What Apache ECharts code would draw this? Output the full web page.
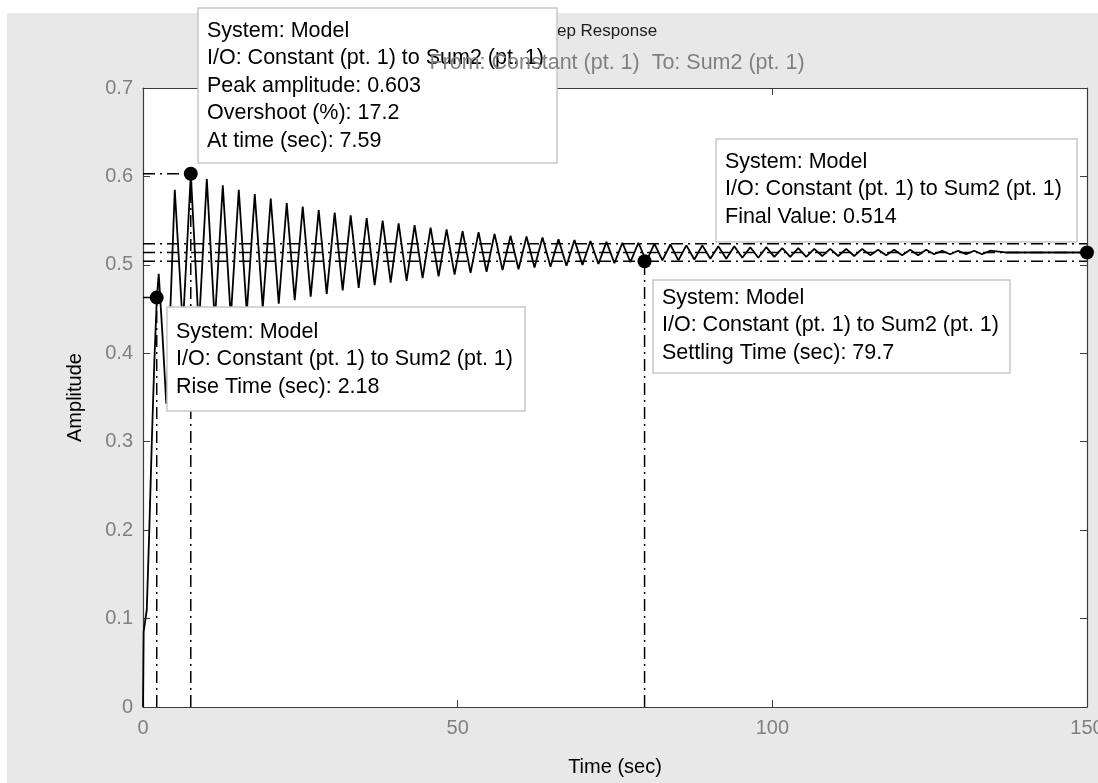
<!DOCTYPE html>
<html>
<head>
<meta charset="utf-8">
<title>Step Response</title>
<script src="https://cdn.jsdelivr.net/npm/echarts@6/dist/echarts.min.js"></script>
<style>
  html, body { margin: 0; padding: 0; background: #fff; }
  #chart { width: 1098px; height: 783px; }
</style>
</head>
<body>
<div id="chart"></div>
<script>
// step response (peaks / troughs of the ringing)
const respTime = [
  0, 0.1, 0.6, 1.0, 1.4, 1.8, 2.2, 2.5, 3.1, 3.7, 4.4, 5.05, 6.33,
  7.6, 8.87, 10.14, 11.41, 12.68, 13.95, 15.22, 16.49, 17.76, 19.03,
  20.3, 21.57, 22.84, 24.11, 25.38, 26.65, 27.92, 29.19, 30.46, 31.73,
  33, 34.27, 35.54, 36.81, 38.08, 39.35, 40.62, 41.89, 43.16, 44.43,
  45.7, 46.97, 48.24, 49.51, 50.78, 52.05, 53.32, 54.59, 55.86, 57.13,
  58.4, 59.67, 60.94, 62.21, 63.48, 64.75, 66.02, 67.29, 68.56, 69.83,
  71.1, 72.37, 73.64, 74.91, 76.18, 77.45, 78.72, 79.99, 81.26, 82.53,
  83.8, 85.07, 86.34, 87.61, 88.88, 90.15, 91.42, 92.69, 93.96, 95.23,
  96.5, 97.77, 99.04, 100.31, 101.58, 102.85, 104.12, 105.39, 106.66, 107.93,
  109.2, 110.47, 111.74, 113.01, 114.28, 115.55, 116.82, 118.09, 119.36, 120.63,
  121.9, 123.17, 124.44, 125.71, 126.98, 128.25, 129.52, 130.79, 132.06, 133.33,
  134.6, 137, 150
]
const respAmp = [
  0, 0.085, 0.11, 0.2, 0.3, 0.39, 0.463, 0.49, 0.42, 0.343, 0.46, 0.585, 0.43,
  0.603, 0.428, 0.597, 0.435, 0.590, 0.440, 0.585, 0.446, 0.580, 0.451,
  0.575, 0.456, 0.570, 0.460, 0.566, 0.464, 0.562, 0.467, 0.559, 0.471,
  0.556, 0.474, 0.553, 0.477, 0.550, 0.480, 0.547, 0.482, 0.545, 0.485,
  0.542, 0.487, 0.540, 0.489, 0.538, 0.491, 0.537, 0.492, 0.535, 0.494,
  0.533, 0.495, 0.532, 0.497, 0.531, 0.498, 0.529, 0.499, 0.528, 0.500,
  0.527, 0.501, 0.526, 0.502, 0.525, 0.503, 0.525, 0.504, 0.524, 0.505,
  0.523, 0.505, 0.522, 0.506, 0.522, 0.507, 0.521, 0.507, 0.521, 0.508,
  0.520, 0.508, 0.520, 0.509, 0.519, 0.509, 0.519, 0.509, 0.518, 0.510,
  0.518, 0.510, 0.518, 0.510, 0.518, 0.511, 0.517, 0.511, 0.517, 0.511,
  0.517, 0.511, 0.517, 0.512, 0.516, 0.512, 0.516, 0.512, 0.516, 0.512,
  0.516, 0.514, 0.514
]

// characteristics [time, amplitude]
const risePoint = [2.18, 0.463]
const peakPoint = [7.59, 0.603]
const settlePoint = [79.7, 0.504]
const finalPoint = [150, 0.514]
const settleBand = [0.504, 0.524]

const xTicks = [0, 50, 100, 150]
const yTicks = [0, 0.1, 0.2, 0.3, 0.4, 0.5, 0.6, 0.7]

const peakNote = ['System: Model', 'I/O: Constant (pt. 1) to Sum2 (pt. 1)', 'Peak amplitude: 0.603', 'Overshoot (%): 17.2', 'At time (sec): 7.59']
const riseNote = ['System: Model', 'I/O: Constant (pt. 1) to Sum2 (pt. 1)', 'Rise Time (sec): 2.18']
const finalNote = ['System: Model', 'I/O: Constant (pt. 1) to Sum2 (pt. 1)', 'Final Value: 0.514']
const settleNote = ['System: Model', 'I/O: Constant (pt. 1) to Sum2 (pt. 1)', 'Settling Time (sec): 79.7']

const FONT = 'Arial'
const AXIS_COLOR = '#3c3c3c'
const DASH_DOT = [12, 5, 2, 5]

const chart = echarts.init(document.getElementById('chart'))

function note(x, y, w, h, lines, top) {
  return {
    type: 'group',
    x: x,
    y: y,
    z: 100,
    children: [
      { type: 'rect', z: 100, shape: { x: 0, y: 0, width: w, height: h }, style: { fill: '#fff', stroke: '#c8c8c8', lineWidth: 1.5 } },
      { type: 'text', z: 101, x: 9, y: top, style: { text: lines.join('\n'), fontFamily: FONT, fontSize: 21.5, lineHeight: 27.5, fill: '#000' } }
    ]
  }
}

function refLine(a, b) {
  return {
    type: 'line',
    data: [a, b],
    symbol: 'none',
    silent: true,
    z: 2,
    lineStyle: { color: '#000', width: 1.5, type: DASH_DOT }
  }
}

const xMin = xTicks[0]
const xMax = xTicks[xTicks.length - 1]
const yMin = yTicks[0]
const yMax = yTicks[yTicks.length - 1]

function axisBase(min, max, interval) {
  return {
    type: 'value',
    min: min,
    max: max,
    interval: interval,
    axisLine: { show: true, onZero: false, lineStyle: { color: AXIS_COLOR, width: 1.2 } },
    axisTick: { show: true, inside: true, length: 7, lineStyle: { color: AXIS_COLOR } },
    splitLine: { show: false }
  }
}

const xInterval = xTicks[1] - xTicks[0]
const yInterval = yTicks[1] - yTicks[0]

chart.setOption({
  animation: false,
  backgroundColor: '#e8e8e8',
  grid: {
    left: 143,
    right: 11,
    top: 88,
    bottom: 76,
    containLabel: false,
    outerBoundsMode: 'none',
    show: true,
    backgroundColor: '#fff',
    borderWidth: 0
  },
  xAxis: [
    Object.assign(axisBase(xMin, xMax, xInterval), {
      position: 'bottom',
      axisLabel: { color: '#808080', fontFamily: FONT, fontSize: 20, margin: 11 },
      name: 'Time (sec)',
      nameLocation: 'middle',
      nameGap: 50,
      nameTextStyle: { color: '#000', fontFamily: FONT, fontSize: 20 }
    }),
    Object.assign(axisBase(xMin, xMax, xInterval), {
      position: 'top',
      axisLabel: { show: false }
    })
  ],
  yAxis: [
    Object.assign(axisBase(yMin, yMax, yInterval), {
      position: 'left',
      axisLabel: { color: '#808080', fontFamily: FONT, fontSize: 20, margin: 10 },
      name: 'Amplitude',
      nameLocation: 'middle',
      nameGap: 58,
      nameTextStyle: { color: '#000', fontFamily: FONT, fontSize: 20 }
    }),
    Object.assign(axisBase(yMin, yMax, yInterval), {
      position: 'right',
      axisLabel: { show: false }
    })
  ],
  graphic: [
    { type: 'rect', z: 0, shape: { x: 0, y: 0, width: 1098, height: 13 }, style: { fill: '#fff' } },
    { type: 'rect', z: 0, shape: { x: 0, y: 0, width: 7, height: 783 }, style: { fill: '#fff' } },
    { type: 'text', z: 1, x: 599, y: 31, style: { text: 'Step Response', fontFamily: FONT, fontSize: 17, fill: '#202020', align: 'center', verticalAlign: 'middle' } },
    note(198, 8, 359, 155, peakNote, 9),
    note(167, 307, 358, 104, riseNote, 11),
    note(716, 139, 361, 103, finalNote, 9),
    note(653, 280, 357, 93, settleNote, 4),
    { type: 'text', z: 200, x: 617, y: 63, style: { text: 'From: Constant (pt. 1)  To: Sum2 (pt. 1)', fontFamily: FONT, fontSize: 21.5, fill: '#808080', align: 'center', verticalAlign: 'middle' } }
  ],
  series: [
    {
      type: 'line',
      name: 'Model',
      data: respTime.map((t, i) => [t, respAmp[i]]),
      symbol: 'none',
      z: 3,
      lineStyle: { color: '#000', width: 1.8 }
    },
    refLine([xMin, peakPoint[1]], peakPoint),
    refLine([peakPoint[0], yMin], peakPoint),
    refLine([xMin, risePoint[1]], risePoint),
    refLine([risePoint[0], yMin], risePoint),
    refLine([settlePoint[0], yMin], settlePoint),
    refLine([xMin, finalPoint[1]], finalPoint),
    refLine([xMin, settleBand[0]], [xMax, settleBand[0]]),
    refLine([xMin, settleBand[1]], [xMax, settleBand[1]]),
    {
      type: 'scatter',
      data: [risePoint, peakPoint, settlePoint, finalPoint],
      symbolSize: 14,
      clip: false,
      z: 4,
      itemStyle: { color: '#000', opacity: 1 }
    }
  ]
})
</script>
</body>
</html>
